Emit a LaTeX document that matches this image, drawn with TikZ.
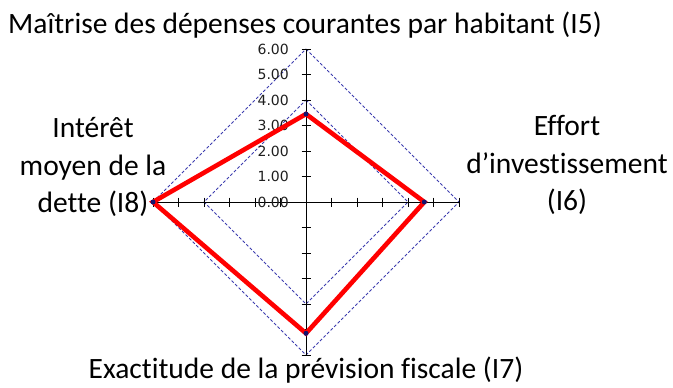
\documentclass[tikz,border=0pt]{standalone}
\usepackage{fontspec}
\setmainfont{Carlito}[Ligatures=NoCommon]
\newfontfamily\axisfont{DejaVu Sans}
\definecolor{gridblue}{RGB}{60,60,175}
\definecolor{dotblue}{RGB}{20,20,110}
\definecolor{ticklbl}{RGB}{30,30,30}
\begin{document}
\begin{tikzpicture}[x=1pt,y=-1pt,
  axisline/.style={black, line width=0.9pt},
  tickline/.style={black, line width=0.9pt},
  gridline/.style={gridblue, line width=0.9pt, dash pattern=on 3pt off 2pt},
  series/.style={red, line width=4.6pt, line join=miter},
  datadot/.style={circle, fill=dotblue, inner sep=0pt, minimum size=5pt},
  ticklabel/.style={font=\axisfont\fontsize{14}{15}\selectfont, text=ticklbl, anchor=east, inner sep=0pt},
  catlabel/.style={font=\fontsize{29.5}{37}\selectfont, align=center, anchor=base, inner sep=0pt},
  titlelabel/.style={font=\fontsize{29.5}{34}\selectfont, anchor=base, inner sep=0pt}]
\useasboundingbox (0,0) rectangle (673,388);
\def\u{25.5}
\coordinate (C) at (306,202);
% axes ends
\coordinate (T6) at (306,{202-6*\u});
\coordinate (B6) at (306,{202+6*\u});
\coordinate (L6) at ({306-6*\u},202);
\coordinate (R6) at ({306+6*\u},202);
\coordinate (T4) at (306,{202-4*\u});
\coordinate (B4) at (306,{202+4*\u});
\coordinate (L4) at ({306-4*\u},202);
\coordinate (R4) at ({306+4*\u},202);
% grid diamonds
\draw[gridline] (T6) -- (R6) -- (B6) -- (L6) -- cycle;
\draw[gridline] (T4) -- (R4) -- (B4) -- (L4) -- cycle;
% axes
\draw[axisline] (T6) -- (B6);
\draw[axisline] (L6) -- (R6);
\foreach \i in {1,...,6}{
  \draw[tickline] ({306-4.5},{202-\i*\u}) -- ({306+4.5},{202-\i*\u});
  \draw[tickline] ({306-4.5},{202+\i*\u}) -- ({306+4.5},{202+\i*\u});
  \draw[tickline] ({306-\i*\u},{202-4.5}) -- ({306-\i*\u},{202+4.5});
  \draw[tickline] ({306+\i*\u},{202-4.5}) -- ({306+\i*\u},{202+4.5});
}
\foreach \i in {0,...,6}{
  \node[ticklabel] (tl\i) at (289,{202-\i*\u}) {\i.00};
}
% data
\coordinate (DT) at (306,{202-3.45*\u});
\coordinate (DR) at ({306+4.64*\u},202);
\coordinate (DB) at (306,{202+5.15*\u});
\coordinate (DL) at ({306-6*\u},202);
\draw[series] (DT) -- (DR) -- (DB) -- (DL) -- cycle;
\foreach \p in {DT,DR,DB,DL}{ \node[datadot] at (\p) {}; }
% labels
\node[titlelabel] (title) at (305,33) {Maîtrise des dépenses courantes par habitant (I5)};
\node[catlabel] (left) at (93,137) {Intérêt};
\node[catlabel] (left2) at (93,175) {moyen de la};
\node[catlabel] (left3) at (93,212) {dette (I8)};
\node[catlabel] (right) at (567,135) {Effort};
\node[catlabel] (right2) at (567,173) {d’investissement};
\node[catlabel] (right3) at (567,210) {(I6)};
\node[catlabel] (bottom) at (306,378) {Exactitude de la prévision fiscale (I7)};
\end{tikzpicture}
\end{document}
